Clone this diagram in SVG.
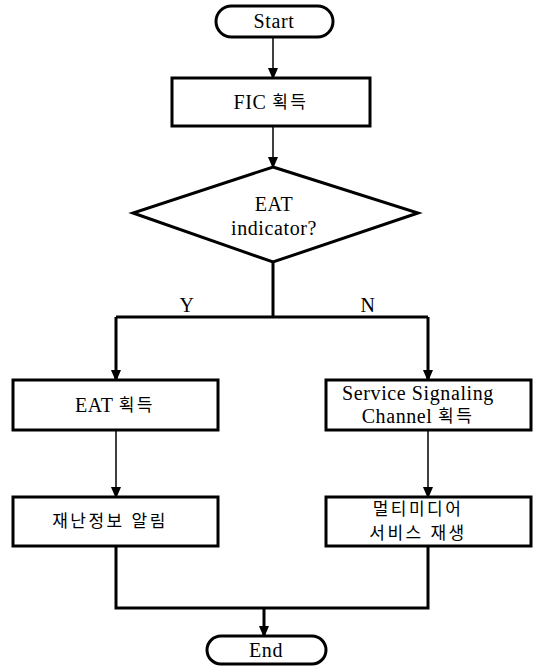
<svg xmlns="http://www.w3.org/2000/svg" width="534" height="666" viewBox="0 0 534 666">
<style>
.box{fill:#fff;stroke:#000;stroke-width:3}
.t{font-family:"Liberation Serif","Noto Sans CJK KR",serif;font-size:20px;letter-spacing:0.6px;fill:#000;text-anchor:middle;dominant-baseline:central}
.k{font-size:17px;letter-spacing:2.5px}
.thick{stroke:#000;stroke-width:3;fill:none}
.thin{stroke:#000;stroke-width:1.5;fill:none}
</style>
<defs>
<marker id="a" markerUnits="userSpaceOnUse" markerWidth="12" markerHeight="14" refX="12" refY="6" orient="auto" viewBox="0 0 14 12">
<path d="M0,0 L14,6 L0,12 Z" fill="#000"/>
</marker>
</defs>
<g id="connectors">
<path class="thin" d="M273,37 V78" marker-end="url(#a)"/>
<path class="thin" d="M273,126 V167" marker-end="url(#a)"/>
<path class="thick" d="M273,262 V317"/>
<path class="thick" d="M116,317 H428"/>
<path class="thick" d="M116,317 V380" marker-end="url(#a)"/>
<path class="thick" d="M428,317 V380" marker-end="url(#a)"/>
<path class="thin" d="M116,430 V497" marker-end="url(#a)"/>
<path class="thin" d="M428,430 V497" marker-end="url(#a)"/>
<path class="thick" d="M116,546 V608 H428 V546"/>
<path class="thick" d="M264,608 V636" marker-end="url(#a)"/>
<text class="t" x="187" y="305">Y</text>
<text class="t" x="368" y="305">N</text>
</g>
<g id="start">
<rect class="box" x="216" y="6" width="117" height="31" rx="15.5"/>
<text class="t" x="274" y="21">Start</text>
</g>
<g id="fic">
<rect class="box" x="172" y="78" width="198" height="48"/>
<text class="t" x="271" y="102">FIC <tspan class="k">획득</tspan></text>
</g>
<g id="decision">
<polygon class="box" points="273,167 418,213 273,262 133,213"/>
<text class="t" x="274" y="204">EAT</text>
<text class="t" x="274" y="228">indicator?</text>
</g>
<g id="eat">
<rect class="box" x="13" y="380" width="205" height="50"/>
<text class="t" x="115" y="405">EAT <tspan class="k">획득</tspan></text>
</g>
<g id="ssc">
<rect class="box" x="326" y="380" width="205" height="50"/>
<text class="t" x="418" y="393">Service Signaling</text>
<text class="t" x="418" y="416">Channel <tspan class="k">획득</tspan></text>
</g>
<g id="alert">
<rect class="box" x="13" y="497" width="205" height="49"/>
<text class="t k" x="110" y="521">재난정보 알림</text>
</g>
<g id="play">
<rect class="box" x="326" y="497" width="205" height="49"/>
<text class="t k" x="418" y="509">멀티미디어</text>
<text class="t k" x="418" y="533">서비스 재생</text>
</g>
<g id="end">
<rect class="box" x="207" y="636" width="119" height="28" rx="14"/>
<text class="t" x="266" y="650">End</text>
</g>
</svg>
